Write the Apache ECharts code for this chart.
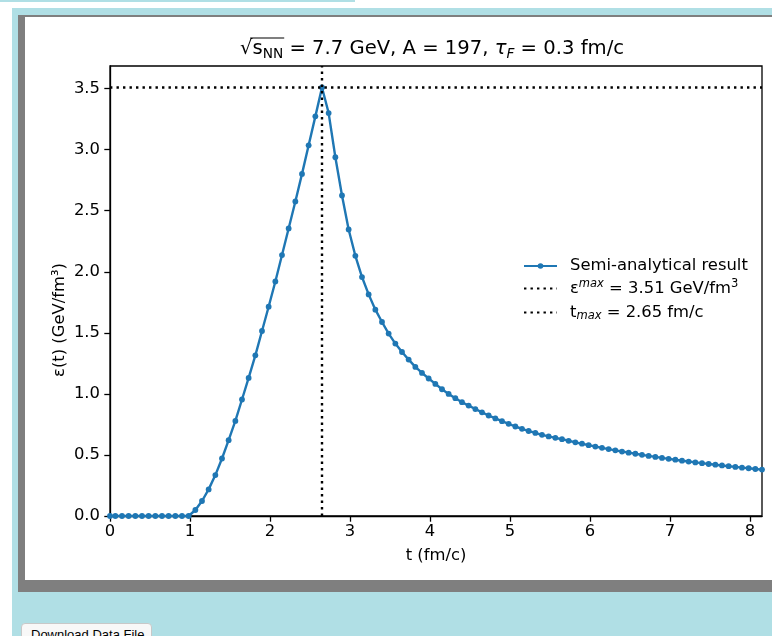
<!DOCTYPE html>
<html><head><meta charset="utf-8">
<script src="https://cdn.jsdelivr.net/npm/echarts@6/dist/echarts.min.js"></script>
<style>
html,body{margin:0;padding:0;background:#fff;width:772px;height:636px;overflow:hidden;position:relative;}
#strip{position:absolute;left:0;top:0;width:355px;height:2px;background:#b0dfe5;}
#panel{position:absolute;left:12px;top:8px;width:780px;height:640px;background:#b0dfe5;}
#frame{position:absolute;left:18px;top:15px;width:770px;height:577px;background:#7f7f7f;}
#white{position:absolute;left:25px;top:17px;width:760px;height:563px;background:#fff;}
#chart{position:absolute;left:0;top:0;width:772px;height:636px;}
#btn{position:absolute;left:21px;top:623px;width:131px;height:24px;box-sizing:border-box;border:1px solid #c8c8c8;border-radius:4px;background:#f8f8f8;font:13px "Liberation Sans",Arial,sans-serif;color:#000;padding:3px 0 0 9px;}
</style></head>
<body>
<div id="strip"></div>
<div id="panel"></div>
<div id="frame"></div>
<div id="white"></div>
<div id="chart"></div>
<div id="btn">Download Data File</div>
<script>
// ---- data ----
const tValues = [
  0, 0.067, 0.15, 0.233, 0.317, 0.4, 0.483, 0.567, 0.65, 0.733, 0.817, 0.9, 0.983,
  1.067, 1.15, 1.233, 1.317, 1.4, 1.483, 1.567, 1.65, 1.733, 1.817, 1.9, 1.983,
  2.067, 2.15, 2.233, 2.317, 2.4, 2.483, 2.567, 2.65,
  2.733, 2.817, 2.9, 2.983, 3.067, 3.15, 3.233, 3.317, 3.4, 3.483, 3.567, 3.65,
  3.733, 3.817, 3.9, 3.983, 4.067, 4.15, 4.233, 4.317, 4.4, 4.483, 4.567, 4.65,
  4.733, 4.817, 4.9, 4.983, 5.067, 5.15, 5.233, 5.317, 5.4, 5.483, 5.567, 5.65,
  5.733, 5.817, 5.9, 5.983, 6.067, 6.15, 6.233, 6.317, 6.4, 6.483, 6.567, 6.65,
  6.733, 6.817, 6.9, 6.983, 7.067, 7.15, 7.233, 7.317, 7.4, 7.483, 7.567, 7.65,
  7.733, 7.817, 7.9, 7.983, 8.067, 8.15
];
const epsValues = [
  0, 0, 0, 0, 0, 0, 0, 0, 0, 0, 0, 0, 0,
  0.049, 0.123, 0.218, 0.335, 0.471, 0.621, 0.779, 0.954, 1.131, 1.316, 1.515, 1.714,
  1.921, 2.137, 2.355, 2.576, 2.802, 3.036, 3.273, 3.51,
  3.30, 2.938, 2.625, 2.347, 2.131, 1.957, 1.815, 1.690, 1.589, 1.494, 1.412, 1.343,
  1.281, 1.221, 1.172, 1.126, 1.082, 1.038, 1.000, 0.965, 0.932, 0.904, 0.876, 0.849,
  0.823, 0.799, 0.777, 0.755, 0.733, 0.714, 0.696, 0.680, 0.665, 0.652, 0.640, 0.629,
  0.616, 0.603, 0.592, 0.580, 0.569, 0.558, 0.548, 0.538, 0.528, 0.519, 0.510, 0.501,
  0.492, 0.484, 0.476, 0.468, 0.461, 0.453, 0.446, 0.439, 0.433, 0.426, 0.420, 0.414,
  0.408, 0.402, 0.396, 0.391, 0.385, 0.380
];
const epsMax = 3.51;
const tMax = 2.65;
const xTicks = [0, 1, 2, 3, 4, 5, 6, 7, 8];
const yTicks = [0, 0.5, 1.0, 1.5, 2.0, 2.5, 3.0, 3.5];
const xMin = 0, xMax = 8.15;
const yMin = 0, yMax = 3.6855;
const seriesName = 'Semi-analytical result';
const epsName = 'εmax = ' + epsMax.toFixed(2) + ' GeV/fm3';
const tName = 'tmax = ' + tMax.toFixed(2) + ' fm/c';

// ---- styling ----
const FONT = 'DejaVu Sans';
const BLUE = '#1f77b4';
const FS = 16.4, TFS = 19.6;

const mc = document.createElement('canvas').getContext('2d');
function tw(text, size, italic) {
  mc.font = (italic ? 'italic ' : '') + size + 'px "' + FONT + '"';
  return mc.measureText(text).width;
}

// title pieces, laid out from measured widths
const tPieces = [
  {text: '√', size: TFS, dy: 0},
  {text: 's', size: TFS, dy: 0},
  {text: 'NN', size: TFS * 0.7, dy: 5},
  {text: ' = 7.7 GeV, A = 197, ', size: TFS, dy: 0},
  {text: 'τ', size: TFS, dy: 0, italic: true},
  {text: 'F', size: TFS * 0.7, dy: 5, italic: true},
  {text: ' = 0.3 fm/c', size: TFS, dy: 0}
];
const titleCx = 432, titleCy = 49;
let totalW = 0;
tPieces.forEach(p => { p.w = tw(p.text, p.size, p.italic); totalW += p.w; });
let cx = titleCx - totalW / 2;
const graphics = [];
let barStart = 0, barEnd = 0;
tPieces.forEach((p, i) => {
  graphics.push({
    type: 'text', x: cx, y: titleCy + p.dy, silent: true,
    style: {text: p.text, fill: '#000', font: (p.italic ? 'italic ' : '') + p.size + 'px "' + FONT + '"',
            align: 'left', verticalAlign: 'middle'}
  });
  if (i === 0) barStart = cx + p.w * 0.82;
  if (i === 2) barEnd = cx + p.w + 1;
  cx += p.w;
});
graphics.push({type: 'line', silent: true,
  shape: {x1: barStart, y1: titleCy - 11, x2: barEnd, y2: titleCy - 11},
  style: {stroke: '#000', lineWidth: 1.2}});
// y axis label
graphics.push({type: 'text', x: 60, y: 320, rotation: Math.PI / 2, silent: true,
  style: {text: 'ε(t) (GeV/fm³)', fill: '#000', font: FS + 'px "' + FONT + '"', align: 'center', verticalAlign: 'middle'}});
// x axis label
graphics.push({type: 'text', x: 436, y: 556, silent: true,
  style: {text: 't (fm/c)', fill: '#000', font: FS + 'px "' + FONT + '"', align: 'center', verticalAlign: 'middle'}});

const curve = tValues.map((t, i) => [t, epsValues[i]]);
const dotted = [2.4, 4.1];
const noMarker = {color: 'rgba(0,0,0,0)', borderWidth: 0};

const chart = echarts.init(document.getElementById('chart'), null, {renderer: 'canvas'});
chart.setOption({
  animation: false,
  backgroundColor: 'transparent',
  grid: {left: 110, right: 10, top: 66, bottom: 120, show: true, borderColor: '#000', borderWidth: 1.3,
         containLabel: false, outerBoundsMode: 'none'},
  xAxis: {
    type: 'value', min: xMin, max: xMax,
    axisLine: {show: true, onZero: false, lineStyle: {color: '#000', width: 1.3}},
    axisTick: {show: true, length: 5.7, lineStyle: {color: '#000', width: 1.3}, customValues: xTicks},
    axisLabel: {color: '#000', fontFamily: FONT, fontSize: FS, margin: 8, customValues: xTicks,
                formatter: v => String(Math.round(v))},
    splitLine: {show: false}
  },
  yAxis: {
    type: 'value', min: yMin, max: yMax,
    axisLine: {show: true, onZero: false, lineStyle: {color: '#000', width: 1.3}},
    axisTick: {show: true, length: 5.7, lineStyle: {color: '#000', width: 1.3}, customValues: yTicks},
    axisLabel: {color: '#000', fontFamily: FONT, fontSize: FS, margin: 10, customValues: yTicks,
                formatter: v => v.toFixed(1)},
    splitLine: {show: false}
  },
  legend: {
    orient: 'vertical', left: 523, top: 258, padding: 0, itemWidth: 33, itemHeight: 7, itemGap: 4,
    selectedMode: false,
    data: [
      {name: seriesName},
      {name: epsName, itemStyle: noMarker},
      {name: tName, itemStyle: noMarker}
    ],
    formatter: function (name) {
      if (name === epsName) return '{n|ε}{sup|max}{n| = ' + epsMax.toFixed(2) + ' GeV/fm}{sup3|3}';
      if (name === tName) return '{n|t}{sub|max}{n| = ' + tMax.toFixed(2) + ' fm/c}';
      return '{n|' + name + '}';
    },
    textStyle: {
      color: '#000', fontFamily: FONT, fontSize: FS, padding: [0, 0, 0, 8],
      rich: {
        n: {color: '#000', fontFamily: FONT, fontSize: FS, lineHeight: 20},
        sup: {color: '#000', fontFamily: FONT, fontSize: 11.5, fontStyle: 'italic', lineHeight: 20, padding: [0, 0, 9, 0]},
        sup3: {color: '#000', fontFamily: FONT, fontSize: 11.5, lineHeight: 20, padding: [0, 0, 9, 0]},
        sub: {color: '#000', fontFamily: FONT, fontSize: 11.5, fontStyle: 'italic', lineHeight: 20, padding: [7, 0, 0, 0]}
      }
    }
  },
  graphic: graphics,
  series: [
    {name: seriesName, type: 'line', data: curve, symbol: 'circle', symbolSize: 5.8, showAllSymbol: true,
     lineStyle: {color: BLUE, width: 2.4}, itemStyle: {color: BLUE}, z: 2},
    {name: epsName, type: 'line', data: [[xMin, epsMax], [xMax, epsMax]], symbol: 'none',
     lineStyle: {color: '#000', width: 2.4, type: dotted, cap: 'butt'}, itemStyle: {color: '#000'}, z: 3},
    {name: tName, type: 'line', data: [[tMax, yMin], [tMax, yMax]], symbol: 'none',
     lineStyle: {color: '#000', width: 2.4, type: dotted, cap: 'butt'}, itemStyle: {color: '#000'}, z: 3}
  ]
});
</script>
</body></html>
